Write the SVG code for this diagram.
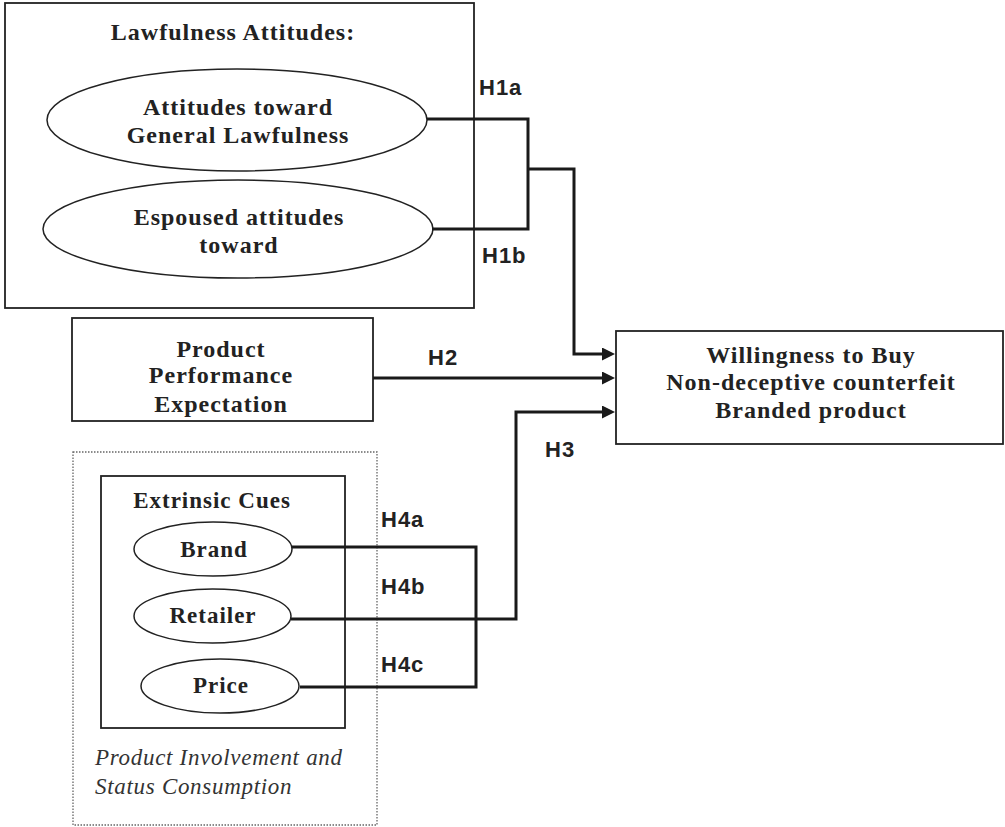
<svg xmlns="http://www.w3.org/2000/svg" width="1005" height="827" viewBox="0 0 1005 827">
<style>
.box{fill:none;stroke:#222;stroke-width:1.8}
.ell{fill:#fff;stroke:#222;stroke-width:1.5}
.dot{fill:none;stroke:#666;stroke-width:1.3;stroke-dasharray:1.5 1.5}
.t{font-family:"Liberation Serif","Times New Roman",serif;font-weight:bold;fill:#222;text-anchor:middle;letter-spacing:1px}
.L{font-size:24px}
.S{font-size:23px}
.it{font-family:"Liberation Serif","Times New Roman",serif;font-style:italic;font-size:23px;fill:#333;letter-spacing:0.7px}
.h{font-family:"Liberation Sans",Arial,sans-serif;font-weight:bold;font-size:22px;fill:#222;letter-spacing:1px}
.c{fill:none;stroke:#1a1a1a;stroke-width:3}
</style>
<defs>
<marker id="arr" markerUnits="userSpaceOnUse" markerWidth="14" markerHeight="13" refX="0" refY="6.5" orient="auto">
<path d="M0,0 L13,6.5 L0,13 z" fill="#1a1a1a"/>
</marker>
</defs>
<rect width="1005" height="827" fill="#fff"/>

<g id="lawfulness">
<rect class="box" x="5" y="3" width="469" height="305"/>
<text class="t L" x="233" y="40">Lawfulness Attitudes:</text>
</g>
<g id="general-lawfulness">
<ellipse class="ell" cx="237" cy="120" rx="190" ry="51"/>
<text class="t L" x="238" y="115">Attitudes toward</text>
<text class="t L" x="238" y="143">General Lawfulness</text>
</g>
<g id="espoused">
<ellipse class="ell" cx="238" cy="229" rx="195" ry="49"/>
<text class="t L" x="239" y="225">Espoused attitudes</text>
<text class="t L" x="239" y="253">toward</text>
</g>
<g id="product-performance">
<rect class="box" x="72" y="318" width="301" height="103"/>
<text class="t L" x="221" y="357">Product</text>
<text class="t L" x="221" y="383">Performance</text>
<text class="t L" x="221" y="412">Expectation</text>
</g>
<g id="willingness">
<rect class="box" x="616" y="331" width="387" height="113"/>
<text class="t L" x="811" y="363">Willingness to Buy</text>
<text class="t L" x="811" y="390">Non-deceptive counterfeit</text>
<text class="t L" x="811" y="418">Branded product</text>
</g>
<g id="involvement">
<rect class="dot" x="73" y="452" width="304" height="373"/>
<text class="it" x="95" y="765">Product Involvement and</text>
<text class="it" x="95" y="794">Status Consumption</text>
</g>
<g id="extrinsic">
<rect class="box" x="101" y="476" width="244" height="252"/>
<text class="t S" x="212" y="508">Extrinsic Cues</text>
</g>
<g id="brand">
<ellipse class="ell" cx="213" cy="549" rx="79" ry="27"/>
<text class="t S" x="214" y="557">Brand</text>
</g>
<g id="retailer">
<ellipse class="ell" cx="212.5" cy="616" rx="78.5" ry="27"/>
<text class="t S" x="213" y="623">Retailer</text>
</g>
<g id="price">
<ellipse class="ell" cx="220" cy="686" rx="79" ry="27"/>
<text class="t S" x="221" y="693">Price</text>
</g>

<g id="connectors">
<path class="c" d="M427,119 H528 V229 H432"/>
<path class="c" d="M528,169 H574 V354 H602" marker-end="url(#arr)"/>
<path class="c" d="M373,378 H602" marker-end="url(#arr)"/>
<path class="c" d="M291,619 H516 V412 H602" marker-end="url(#arr)"/>
<path class="c" d="M292,547 H476 V687 H300"/>
<text class="h" x="479" y="95">H1a</text>
<text class="h" x="482" y="263">H1b</text>
<text class="h" x="428" y="365">H2</text>
<text class="h" x="545" y="457">H3</text>
<text class="h" x="381" y="527">H4a</text>
<text class="h" x="381" y="594">H4b</text>
<text class="h" x="381" y="672">H4c</text>
</g>
</svg>
